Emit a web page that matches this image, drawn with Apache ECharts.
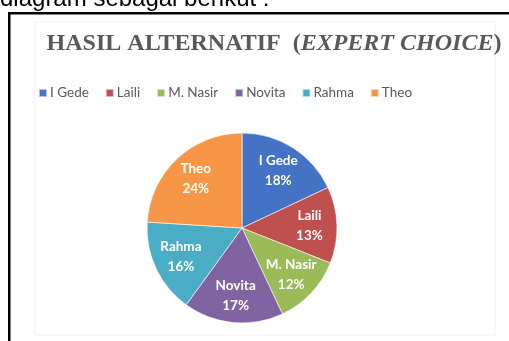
<!DOCTYPE html>
<html>
<head>
<meta charset="utf-8">
<script src="https://cdn.jsdelivr.net/npm/echarts@6/dist/echarts.min.js"></script>
<style>
html,body{margin:0;padding:0;background:#fff;}
#chart{width:509px;height:341px;}
</style>
</head>
<body>
<div id="chart"></div>
<script>
const categories = ['I Gede', 'Laili', 'M. Nasir', 'Novita', 'Rahma', 'Theo'];
const values = [18, 13, 12, 17, 16, 24];
const colors = ['#4472C4', '#C0504D', '#9BBB59', '#8064A2', '#4BACC6', '#F79646'];
const titleMain = 'HASIL ALTERNATIF  (';
const titleItalic = 'EXPERT CHOICE';
const titleEnd = ')';
const captionText = 'diagram sebagai berikut :';

const data = categories.map((c, i) => ({ name: c, value: values[i] }));

const chart = echarts.init(document.getElementById('chart'), null, { renderer: 'canvas' });
chart.setOption({
  backgroundColor: '#ffffff',
  animation: false,
  color: colors,
  title: {
    text: '{a|' + titleMain + '}{b|' + titleItalic + '}{a|' + titleEnd + '}',
    left: 269,
    textAlign: 'center',
    top: 27,
    textStyle: {
      rich: {
        a: { fontFamily: 'Liberation Serif', fontWeight: 'bold', fontSize: 24, color: '#595959' },
        b: { fontFamily: 'Liberation Serif', fontWeight: 'bold', fontStyle: 'italic', fontSize: 24, color: '#595959' }
      }
    }
  },
  legend: {
    data: categories,
    left: 33,
    top: 81,
    itemWidth: 8,
    itemHeight: 8,
    itemGap: 16,
    icon: 'rect',
    textStyle: { fontFamily: 'Lato', fontSize: 13.5, color: '#595959', padding: [0, 0, 0, -2] }
  },
  graphic: [
    { type: 'text', left: 0, top: -13, style: { text: captionText, font: '24px "Liberation Sans"', fill: '#000' } },
    { type: 'rect', shape: { x: 8, y: 12, width: 501, height: 2.5 }, style: { fill: '#000' } },
    { type: 'rect', shape: { x: 8, y: 12, width: 2.5, height: 329 }, style: { fill: '#000' } },
    { type: 'rect', shape: { x: 35, y: 22, width: 460, height: 313 }, style: { fill: 'none', stroke: '#f0f0f0', lineWidth: 1 } }
  ],
  series: [
    {
      type: 'pie',
      radius: [0, 95],
      center: [242, 228],
      startAngle: 90,
      clockwise: true,
      data: data,
      label: { show: false },
      labelLine: { show: false },
      itemStyle: { borderColor: 'rgba(255,255,255,0.6)', borderWidth: 1 },
      silent: true
    },
    {
      type: 'pie',
      radius: [34, 95],
      center: [242, 228],
      startAngle: 90,
      clockwise: true,
      data: data,
      silent: true,
      itemStyle: { color: 'rgba(0,0,0,0)' },
      label: {
        show: true,
        position: 'inside',
        formatter: '{b}\n{c}%',
        color: '#ffffff',
        fontFamily: 'Lato',
        fontWeight: 'bold',
        fontSize: 13.5,
        lineHeight: 20
      },
      labelLine: { show: false }
    }
  ]
});
</script>
</body>
</html>
